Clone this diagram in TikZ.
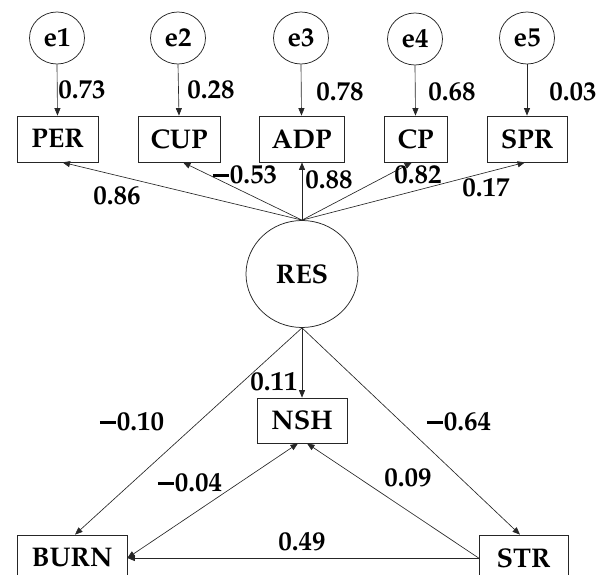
\documentclass[tikz,border=0pt]{standalone}
\usepackage[T1]{fontenc}
\usepackage{mathpazo}
\usetikzlibrary{arrows.meta,shapes.geometric}
\newcommand\mn{\rule[0.27em]{0.6em}{0.1em}\kern0.03em}
\begin{document}
\begin{tikzpicture}[x=1pt,y=-1pt,
  every node/.style={font=\fontsize{27}{30}\selectfont\bfseries, inner sep=0pt},
  box/.style={draw=black!85, line width=0.75pt, rectangle, minimum height=46pt},
  err/.style={draw=black!85, line width=0.75pt, ellipse, minimum width=55pt, minimum height=52pt},
  lat/.style={draw=black!85, line width=0.75pt, ellipse, minimum width=112pt, minimum height=107pt},
  arr/.style={draw=black!85, line width=0.65pt, -{Triangle[length=7.5pt,width=6pt]}},
  darr/.style={draw=black!85, line width=0.65pt, {Triangle[length=7.5pt,width=6pt]}-{Triangle[length=7.5pt,width=6pt]}},
  lab/.style={anchor=center}
]
\clip (0,0) rectangle (597,575);
% error terms
\node[err] (e1) at (57,38) {e1};
\node[err] (e2) at (178,38) {e2};
\node[err] (e3) at (301,38) {e3};
\node[err] (e4) at (415,39) {e4};
\node[err] (e5) at (527,38) {e5};
% indicators
\node[box, minimum width=81pt] (PER) at (57.5,139) {PER};
\node[box, minimum width=82pt] (CUP) at (179,139) {CUP};
\node[box, minimum width=85pt] (ADP) at (301.5,139) {ADP};
\node[box, minimum width=63pt] (CP) at (415.5,139) {CP};
\node[box, minimum width=80pt] (SPR) at (527,139) {SPR};
% latent
\node[lat] (RES) at (302,274) {RES};
% lower boxes
\node[box, minimum width=90pt, minimum height=45pt] (NSH) at (302,420.5) {NSH};
\node[box, minimum width=110pt] (BURN) at (72,558) {BURN};
\node[box, minimum width=89pt] (STR) at (523.5,558) {STR};
% error arrows
\draw[arr] (e1.south) -- (PER.north);
\draw[arr] (e2.south) -- (CUP.north);
\draw[arr] (e3.south) -- (ADP.north);
\draw[arr] (e4.south) -- (CP.north);
\draw[arr] (e5.south) -- (SPR.north);
% loadings
\draw[arr] (RES.north) -- ([xshift=5pt]PER.south);
\draw[arr] (RES.north) -- ([xshift=4pt]CUP.south);
\draw[arr] (RES.north) -- ([xshift=0.5pt]ADP.south);
\draw[arr] (RES.north) -- ([xshift=-3.5pt]CP.south);
\draw[arr] (RES.north) -- ([xshift=-2pt]SPR.south);
% structural paths
\draw[arr] (RES.south) -- (NSH.north);
\draw[arr] (RES.south) -- ([xshift=3pt]BURN.north);
\draw[arr] (RES.south) -- ([xshift=-3.5pt]STR.north);
\draw[arr] (STR.west) -- ([xshift=5pt]NSH.south);
\draw[arr] (STR.west) -- (BURN.east);
\draw[darr] (BURN.east) -- ([xshift=-4pt]NSH.south);
% labels
\node[lab] (l1) at (82,90) {0.73};
\node[lab] (l2) at (211,90) {0.28};
\node[lab] (l3) at (340,92) {0.78};
\node[lab] (l4) at (452,92) {0.68};
\node[lab] (l5) at (573,92) {0.03};
\node[lab] (l6) at (117,196) {0.86};
\node[lab] (l7) at (245,175) {\mn0.53};
\node[lab] (l8) at (329,180) {0.88};
\node[lab] (l9) at (418,175) {0.82};
\node[lab] (l10) at (486,188) {0.17};
\node[lab] (l11) at (274,382) {0.11};
\node[lab] (l12) at (132,422) {\mn0.10};
\node[lab] (l13) at (459,422) {\mn0.64};
\node[lab] (l14) at (190,483) {\mn0.04};
\node[lab] (l15) at (408,478) {0.09};
\node[lab] (l16) at (302,542) {0.49};
\end{tikzpicture}
\end{document}
